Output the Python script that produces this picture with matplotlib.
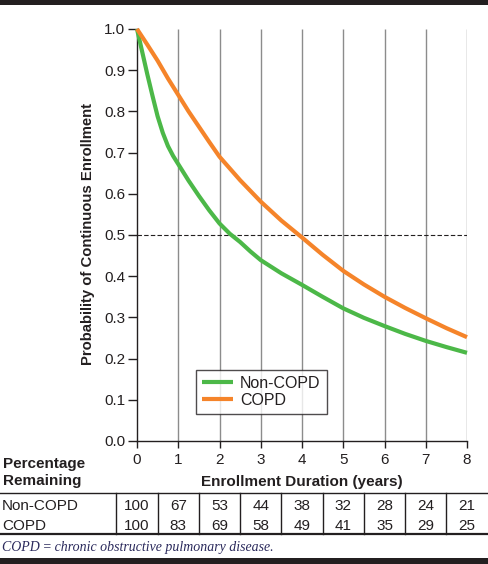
import matplotlib
matplotlib.use('Agg')
import matplotlib.pyplot as plt
from matplotlib.lines import Line2D
from matplotlib.transforms import blended_transform_factory

plt.rcParams['font.family'] = ['Liberation Sans', 'DejaVu Sans']

# curve readings (years, probability)
years_non = [0, 0.125, 0.25, 0.375, 0.5, 0.625, 0.75, 0.875, 1, 1.25, 1.5, 1.75, 2,
             2.25, 2.5, 2.75, 3, 3.5, 4, 4.5, 5, 5.5, 6, 6.5, 7, 7.5, 8]
prob_non = [1.0, 0.945, 0.89, 0.838, 0.788, 0.748, 0.716, 0.692, 0.672, 0.632, 0.595,
            0.56, 0.528, 0.503, 0.483, 0.46, 0.439, 0.407, 0.379, 0.35, 0.322, 0.299,
            0.279, 0.26, 0.243, 0.228, 0.214]
years_copd = [0, 0.25, 0.5, 0.75, 1, 1.25, 1.5, 1.75, 2, 2.5, 3, 3.5, 4, 4.5, 5,
              5.5, 6, 6.5, 7, 7.5, 8]
prob_copd = [1.0, 0.962, 0.923, 0.88, 0.84, 0.8, 0.763, 0.726, 0.69, 0.633, 0.581,
             0.535, 0.494, 0.452, 0.413, 0.38, 0.35, 0.323, 0.298, 0.274, 0.252]

# table below the chart
table_years = [0, 1, 2, 3, 4, 5, 6, 7, 8]
pct_non = [100, 67, 53, 44, 38, 32, 28, 24, 21]
pct_copd = [100, 83, 69, 58, 49, 41, 35, 29, 25]

GREEN = '#4cb848'
ORANGE = '#f5842a'
INK = '#231f20'

W, H = 488, 564
fig = plt.figure(figsize=(W / 100, H / 100), dpi=100)
ax = fig.add_axes([137 / W, 1 - 441 / H, 330 / W, 412 / H])

ax.set_xlim(0, 8)
ax.set_ylim(0, 1)
ax.vlines(table_years[1:], 0, 1, color='#8c8c8c', lw=1.0, zorder=1)
ax.plot([0, 8], [0.5, 0.5], color=INK, lw=0.8, dashes=(4, 2), zorder=2)
ax.plot(years_non, prob_non, color=GREEN, lw=3, label='Non-COPD', clip_on=False,
        zorder=3, solid_capstyle='butt', solid_joinstyle='round')
ax.plot(years_copd, prob_copd, color=ORANGE, lw=3, label='COPD', clip_on=False,
        zorder=4, solid_capstyle='butt', solid_joinstyle='round')

for s in ['top', 'right']:
    ax.spines[s].set_visible(False)
for s in ['left', 'bottom']:
    ax.spines[s].set_color(INK)
    ax.spines[s].set_linewidth(1.0)

ax.set_yticks([i / 10 for i in range(11)])
ax.set_yticklabels([f'{i / 10:.1f}' for i in range(11)])
ax.set_xticks(table_years)
ax.tick_params(axis='y', length=6.5, width=1.0, pad=2, labelsize=11, colors=INK)
ax.tick_params(axis='x', length=5, width=1.0, pad=4, labelsize=11, colors=INK)

leg = ax.legend(loc='lower left', bbox_to_anchor=(0.179, 0.0655), borderaxespad=0,
                fontsize=11.5, frameon=True, fancybox=False, handlelength=1.9,
                handletextpad=0.45, borderpad=0.4, labelspacing=0.1)
leg.get_frame().set_edgecolor(INK)
leg.get_frame().set_linewidth(1.0)
for t in leg.get_texts():
    t.set_color(INK)

# axis titles
fig.text(88 / W, 1 - 234 / H, 'Probability of Continuous Enrollment', rotation=90,
         ha='center', va='center', fontsize=10.7, fontweight='bold', color=INK)
fig.text(302 / W, 1 - 482 / H, 'Enrollment Duration (years)', ha='center', va='center',
         fontsize=11, fontweight='bold', color=INK)
fig.text(3 / W, 1 - 472.5 / H, 'Percentage\nRemaining', ha='left', va='center',
         fontsize=11, fontweight='bold', color=INK, linespacing=1.2)

# table
tr = blended_transform_factory(ax.transData, fig.transFigure)
y_top = 1 - 492.7 / H
y_bot = 1 - 534 / H
fig.add_artist(Line2D([0, 1], [y_top, y_top], transform=fig.transFigure, color=INK, lw=1.0))
fig.add_artist(Line2D([0, 1], [y_bot, y_bot], transform=fig.transFigure, color=INK, lw=1.6))
for x in table_years:
    fig.add_artist(Line2D([x - 0.5, x - 0.5], [y_top, y_bot], transform=tr, color=INK, lw=1.0))

y_r1 = 1 - 506 / H
y_r2 = 1 - 526.5 / H
fig.text(2 / W, y_r1, 'Non-COPD', ha='left', va='center', fontsize=11, color=INK)
fig.text(2 / W, y_r2, 'COPD', ha='left', va='center', fontsize=11, color=INK)
for x, a, b in zip(table_years, pct_non, pct_copd):
    fig.text(x, y_r1, str(a), transform=tr, ha='center', va='center', fontsize=11, color=INK)
    fig.text(x, y_r2, str(b), transform=tr, ha='center', va='center', fontsize=11, color=INK)

fig.text(2 / W, 1 - 547 / H, 'COPD\u2009=\u2009chronic obstructive pulmonary disease.',
         ha='left', va='center', fontsize=10, style='italic', color='#2b2a5c',
         family=['Liberation Serif', 'DejaVu Serif'])

# dark bands top and bottom
fig.add_artist(plt.Rectangle((0, 1 - 4.7 / H), 1, 4.7 / H, transform=fig.transFigure,
                             color=INK, lw=0))
fig.add_artist(plt.Rectangle((0, 0), 1, 6 / H, transform=fig.transFigure, color=INK, lw=0))

fig.savefig('out.png', dpi=100)
